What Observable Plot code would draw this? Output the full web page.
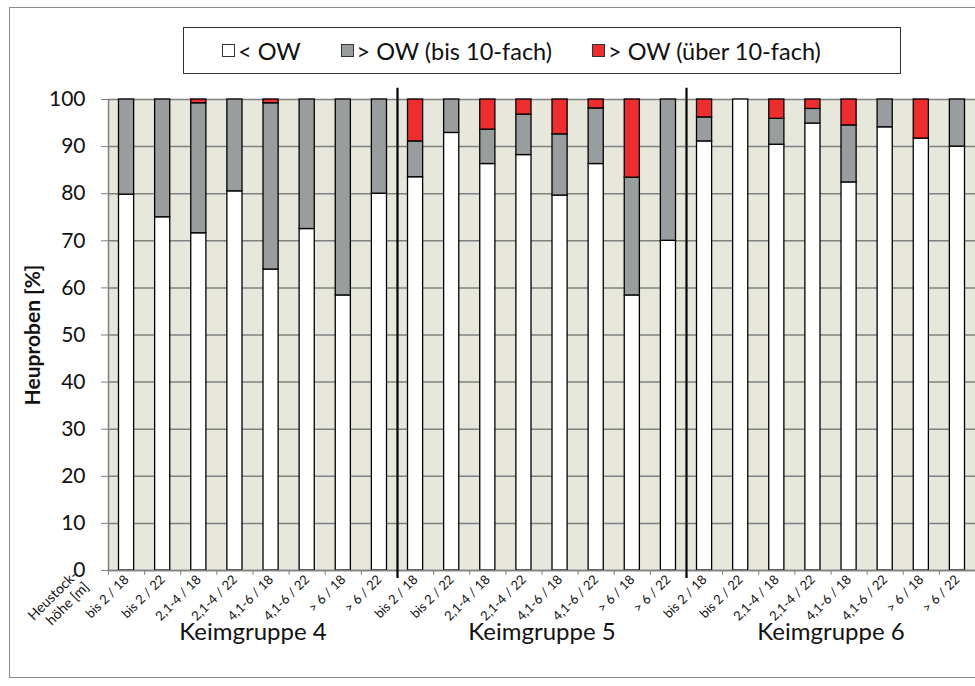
<!DOCTYPE html>
<html>
<head>
<meta charset="utf-8">
<script src="https://cdn.jsdelivr.net/npm/d3@7"></script>
<script src="https://cdn.jsdelivr.net/npm/@observablehq/plot@0.6"></script>
<style>
  body { margin: 0; background: #fff; font-family: Lato, "Open Sans", sans-serif; }
  #frame { position: absolute; left: 9px; top: 7px; width: 990px; height: 669px; border: 1px solid #8a8a8a; pointer-events: none; }
  #legend { position: absolute; left: 183px; top: 27px; width: 678px; height: 45px; border: 1px solid #333; background: #fff;
            display: flex; align-items: center; justify-content: flex-start; padding-left: 38px; box-sizing: content-box;
            font-size: 23.5px; color: #111; }
  #legend .item { display: flex; align-items: center; gap: 3px; white-space: nowrap; }
  #legend .item + .item { margin-left: 40px; }
  #legend .sw { width: 13px; height: 13px; border: 1px solid #333; box-sizing: border-box; display: inline-block; }
  #chart { position: absolute; left: 0; top: 80px; }
</style>
</head>
<body>
<div id="frame"></div>
<div id="legend"></div>
<div id="chart"></div>
<script>
const categories = ["bis 2 / 18","bis 2 / 22","2,1-4 / 18","2,1-4 / 22","4,1-6 / 18","4,1-6 / 22","> 6 / 18","> 6 / 22"];
const groups = ["Keimgruppe 4","Keimgruppe 5","Keimgruppe 6"];
const seriesNames = ["< OW","> OW (bis 10-fach)","> OW (über 10-fach)"];
const seriesColors = ["#ffffff","#9a9d9d","#ee2e2e"];
const below = [79.8,75.0,71.6,80.5,63.9,72.5,58.4,80.0, 83.5,92.9,86.3,88.2,79.6,86.3,58.4,70.0, 91.1,100,90.4,94.9,82.4,94.1,91.7,90.0];
const upTo10 = [20.2,25.0,27.6,19.5,35.3,27.5,41.6,20.0, 7.6,7.1,7.3,8.6,13.0,11.8,25.0,30.0, 5.1,0,5.5,3.1,12.1,5.9,0,10.0];
const over10 = [0,0,0.8,0,0.8,0,0,0, 8.9,0,6.4,3.2,7.4,1.9,16.6,0, 3.8,0,4.1,2.0,5.5,0,8.3,0];
const yTicks = [0,10,20,30,40,50,60,70,80,90,100];
const xAxisLabel = "Heustock-\nhöhe [m]";
const yAxisLabel = "Heuproben [%]";

const seriesValues = [below, upTo10, over10];
const n = below.length;
const rows = [];
for (let i = 0; i < n; i++) {
  seriesValues.forEach((vals, s) => {
    if (vals[i] > 0) rows.push({i, series: seriesNames[s], value: vals[i]});
  });
}
const groupRows = groups.map((g, k) => ({g, x: k * categories.length + categories.length / 2}));
const separators = d3.range(1, groups.length).map(k => k * categories.length);
const labelTicks = d3.range(n).map(i => i + 0.5);
const boundaryTicks = d3.range(n + 1);

// legend
const legend = document.getElementById("legend");
seriesNames.forEach((s, k) => {
  const it = document.createElement("div");
  it.className = "item";
  it.innerHTML = `<span class="sw" style="background:${seriesColors[k]}"></span><span>${s}</span>`;
  legend.appendChild(it);
});

const plot = Plot.plot({
  width: 975,
  height: 606,
  marginTop: 19,
  marginLeft: 108,
  marginRight: 0,
  marginBottom: 116,
  style: {fontFamily: "Lato, 'Open Sans', sans-serif", color: "#111", overflow: "visible"},
  x: {type: "linear", domain: [0, n]},
  y: {domain: [0, 100]},
  color: {domain: seriesNames, range: seriesColors},
  marks: [
    Plot.frame({fill: "#e8e7dc", stroke: null}),
    Plot.gridY(yTicks, {stroke: "#808080", strokeOpacity: 1, strokeWidth: 1.5}),
    Plot.rectY(rows, Plot.stackY({
      x1: "i", x2: d => d.i + 1, y: "value", fill: "series", order: seriesNames,
      stroke: "#000", strokeWidth: 1.3, insetLeft: 10.5, insetRight: 10.5
    })),
    Plot.ruleY([0], {stroke: "#808080", strokeWidth: 1.5}),
    Plot.ruleX([0], {stroke: "#808080", strokeWidth: 1.5}),
    Plot.axisY(yTicks, {tickSize: 7, tickPadding: 16, fontSize: 21, stroke: "#808080", label: null, tickFormat: d => d}),
    Plot.axisX(boundaryTicks, {tickSize: 5, tickFormat: () => "", stroke: "#808080", label: null}),
    Plot.axisX(labelTicks, {tickSize: 0, tickPadding: 7, tickRotate: -45, fontSize: 13,
      tickFormat: d => categories[Math.floor(d) % categories.length], label: null}),
    Plot.ruleX(separators, {y1: -1.7, y2: 102.4, stroke: "#000", strokeWidth: 2.2, clip: false}),
    Plot.text(groupRows, {x: "x", y: 0, text: "g", dy: 62, fontSize: 24, fill: "#111"}),
    Plot.text([xAxisLabel], {x: 0, y: 0, text: d => d, rotate: -45, textAnchor: "end", dx: -28, dy: 8, fontSize: 14, lineHeight: 1.15, fill: "#111"}),
    Plot.text([yAxisLabel], {x: 0, y: 50, text: d => d, rotate: -90, dx: -75, fontSize: 21, fontWeight: "bold", fill: "#111"})
  ]
});
document.getElementById("chart").appendChild(plot);
</script>
</body>
</html>
